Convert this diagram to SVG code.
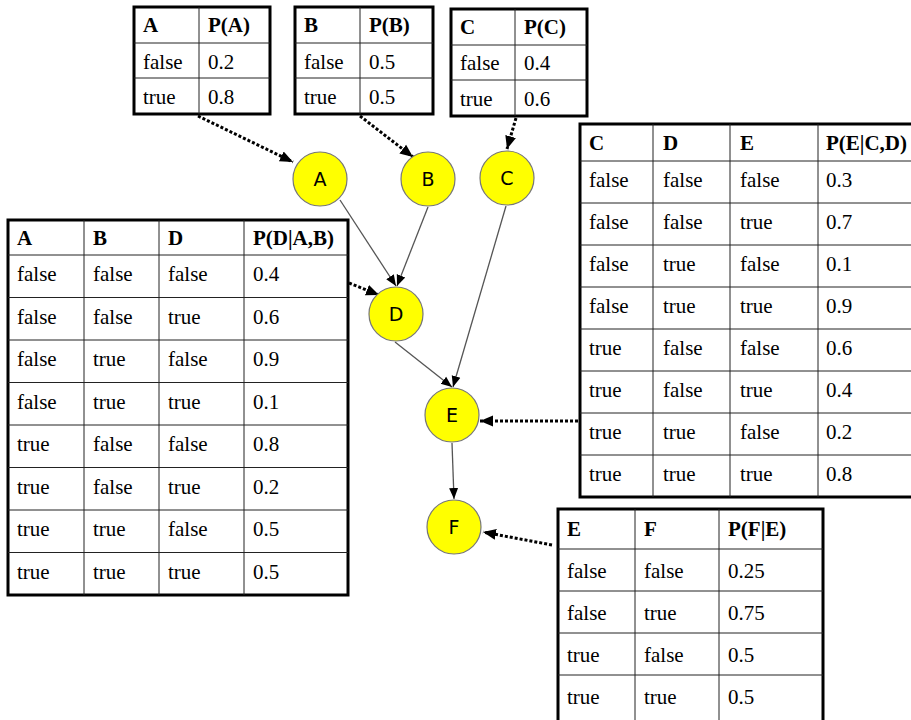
<svg xmlns="http://www.w3.org/2000/svg" width="911" height="720" viewBox="0 0 911 720">
<defs>
<style>
.outer{fill:#fff;stroke:#000;stroke-width:3}
.grid{stroke:#222;stroke-width:1;fill:none}
.t{font-family:"Liberation Serif","Times New Roman",serif;font-size:21px;fill:#000}
.h{font-weight:bold}
.node circle{fill:#ffff00;stroke:#777;stroke-width:1.2}
.node text{font-family:"DejaVu Sans",Verdana,sans-serif;font-size:19px;fill:#000;text-anchor:middle}
.edge{stroke:#555;stroke-width:1.3;fill:none;marker-end:url(#ah)}
.dot{stroke:#000;stroke-width:3;stroke-dasharray:3 2;fill:none;marker-end:url(#dh)}
</style>
<marker id="ah" markerUnits="userSpaceOnUse" markerWidth="12" markerHeight="12" viewBox="0 0 12 12" refX="11" refY="6" orient="auto">
<path d="M0,1.5 L11,6 L0,10.5 Z" fill="#000"/>
</marker>
<marker id="dh" markerUnits="userSpaceOnUse" markerWidth="14" markerHeight="14" viewBox="0 0 14 14" refX="13" refY="7" orient="auto">
<path d="M0,1.5 L13,7 L0,12.5 Z" fill="#000"/>
</marker>
</defs>
<rect width="911" height="720" fill="#fff"/>

<g id="tableA">
<rect class="outer" x="134" y="7" width="136" height="107"/>
<path class="grid" d="M199,7V114M134,43H270M134,78H270"/>
<text class="t h" x="143" y="32">A</text><text class="t h" x="208" y="32">P(A)</text>
<text class="t" x="143" y="69">false</text><text class="t" x="208" y="69">0.2</text>
<text class="t" x="143" y="104">true</text><text class="t" x="208" y="104">0.8</text>
</g>
<g id="tableB">
<rect class="outer" x="295" y="7" width="138" height="107"/>
<path class="grid" d="M360,7V114M295,43H433M295,78H433"/>
<text class="t h" x="304" y="32">B</text><text class="t h" x="369" y="32">P(B)</text>
<text class="t" x="304" y="69">false</text><text class="t" x="369" y="69">0.5</text>
<text class="t" x="304" y="104">true</text><text class="t" x="369" y="104">0.5</text>
</g>
<g id="tableC">
<rect class="outer" x="451" y="9" width="136" height="107"/>
<path class="grid" d="M515,9V116M451,45H587M451,80H587"/>
<text class="t h" x="460" y="34">C</text><text class="t h" x="524" y="34">P(C)</text>
<text class="t" x="460" y="70">false</text><text class="t" x="524" y="70">0.4</text>
<text class="t" x="460" y="106">true</text><text class="t" x="524" y="106">0.6</text>
</g>

<g id="tableD">
<rect class="outer" x="8" y="220" width="340" height="375"/>
<path class="grid" d="M84,220V595M159,220V595M244,220V595M8,255H348M8,297.5H348M8,340H348M8,382.5H348M8,425H348M8,467.5H348M8,510H348M8,552.5H348"/>
<text class="t h" x="17" y="245">A</text><text class="t h" x="93" y="245">B</text><text class="t h" x="168" y="245">D</text><text class="t h" x="253" y="245">P(D|A,B)</text>
<text class="t" x="17" y="281">false</text><text class="t" x="93" y="281">false</text><text class="t" x="168" y="281">false</text><text class="t" x="253" y="281">0.4</text>
<text class="t" x="17" y="323.5">false</text><text class="t" x="93" y="323.5">false</text><text class="t" x="168" y="323.5">true</text><text class="t" x="253" y="323.5">0.6</text>
<text class="t" x="17" y="366">false</text><text class="t" x="93" y="366">true</text><text class="t" x="168" y="366">false</text><text class="t" x="253" y="366">0.9</text>
<text class="t" x="17" y="408.5">false</text><text class="t" x="93" y="408.5">true</text><text class="t" x="168" y="408.5">true</text><text class="t" x="253" y="408.5">0.1</text>
<text class="t" x="17" y="451">true</text><text class="t" x="93" y="451">false</text><text class="t" x="168" y="451">false</text><text class="t" x="253" y="451">0.8</text>
<text class="t" x="17" y="493.5">true</text><text class="t" x="93" y="493.5">false</text><text class="t" x="168" y="493.5">true</text><text class="t" x="253" y="493.5">0.2</text>
<text class="t" x="17" y="536">true</text><text class="t" x="93" y="536">true</text><text class="t" x="168" y="536">false</text><text class="t" x="253" y="536">0.5</text>
<text class="t" x="17" y="578.5">true</text><text class="t" x="93" y="578.5">true</text><text class="t" x="168" y="578.5">true</text><text class="t" x="253" y="578.5">0.5</text>
</g>

<g id="tableE">
<rect class="outer" x="580" y="124" width="340" height="373"/>
<path class="grid" d="M653,124V497M730,124V497M818,124V497M580,161H920M580,203H920M580,245H920M580,287H920M580,329H920M580,371H920M580,413H920M580,455H920"/>
<text class="t h" x="589" y="150">C</text><text class="t h" x="663" y="150">D</text><text class="t h" x="740" y="150">E</text><text class="t h" x="826" y="150">P(E|C,D)</text>
<text class="t" x="589" y="187">false</text><text class="t" x="663" y="187">false</text><text class="t" x="740" y="187">false</text><text class="t" x="826" y="187">0.3</text>
<text class="t" x="589" y="229">false</text><text class="t" x="663" y="229">false</text><text class="t" x="740" y="229">true</text><text class="t" x="826" y="229">0.7</text>
<text class="t" x="589" y="271">false</text><text class="t" x="663" y="271">true</text><text class="t" x="740" y="271">false</text><text class="t" x="826" y="271">0.1</text>
<text class="t" x="589" y="313">false</text><text class="t" x="663" y="313">true</text><text class="t" x="740" y="313">true</text><text class="t" x="826" y="313">0.9</text>
<text class="t" x="589" y="355">true</text><text class="t" x="663" y="355">false</text><text class="t" x="740" y="355">false</text><text class="t" x="826" y="355">0.6</text>
<text class="t" x="589" y="397">true</text><text class="t" x="663" y="397">false</text><text class="t" x="740" y="397">true</text><text class="t" x="826" y="397">0.4</text>
<text class="t" x="589" y="439">true</text><text class="t" x="663" y="439">true</text><text class="t" x="740" y="439">false</text><text class="t" x="826" y="439">0.2</text>
<text class="t" x="589" y="481">true</text><text class="t" x="663" y="481">true</text><text class="t" x="740" y="481">true</text><text class="t" x="826" y="481">0.8</text>
</g>

<g id="tableF">
<rect class="outer" x="558" y="509" width="265" height="230"/>
<path class="grid" d="M635,509V739M719,509V739M558,549H823M558,591H823M558,633H823M558,675H823"/>
<text class="t h" x="567" y="536">E</text><text class="t h" x="644" y="536">F</text><text class="t h" x="728" y="536">P(F|E)</text>
<text class="t" x="567" y="578">false</text><text class="t" x="644" y="578">false</text><text class="t" x="728" y="578">0.25</text>
<text class="t" x="567" y="620">false</text><text class="t" x="644" y="620">true</text><text class="t" x="728" y="620">0.75</text>
<text class="t" x="567" y="662">true</text><text class="t" x="644" y="662">false</text><text class="t" x="728" y="662">0.5</text>
<text class="t" x="567" y="704">true</text><text class="t" x="644" y="704">true</text><text class="t" x="728" y="704">0.5</text>
</g>

<g id="connectors">
<line class="edge" x1="340" y1="200" x2="396" y2="286"/>
<line class="edge" x1="428" y1="207" x2="397" y2="286"/>
<line class="edge" x1="506" y1="206" x2="453" y2="387"/>
<line class="edge" x1="395" y1="342" x2="452" y2="387"/>
<line class="edge" x1="452" y1="443" x2="454" y2="499"/>
<line class="dot" x1="198" y1="116" x2="293" y2="162"/>
<line class="dot" x1="360" y1="116" x2="413" y2="157"/>
<line class="dot" x1="516" y1="118" x2="507" y2="149"/>
<line class="dot" x1="349" y1="283" x2="379" y2="295"/>
<line class="dot" x1="578" y1="421" x2="480" y2="421"/>
<line class="dot" x1="552" y1="545" x2="483" y2="532"/>
</g>

<g id="nodeA" class="node"><circle cx="320" cy="179" r="27"/><text x="320" y="186">A</text></g>
<g id="nodeB" class="node"><circle cx="428" cy="179" r="27"/><text x="428" y="186">B</text></g>
<g id="nodeC" class="node"><circle cx="507" cy="178" r="27"/><text x="507" y="185">C</text></g>
<g id="nodeD" class="node"><circle cx="396" cy="314" r="27"/><text x="396" y="321">D</text></g>
<g id="nodeE" class="node"><circle cx="452" cy="415" r="27"/><text x="452" y="422">E</text></g>
<g id="nodeF" class="node"><circle cx="454" cy="527" r="27"/><text x="454" y="534">F</text></g>
</svg>
